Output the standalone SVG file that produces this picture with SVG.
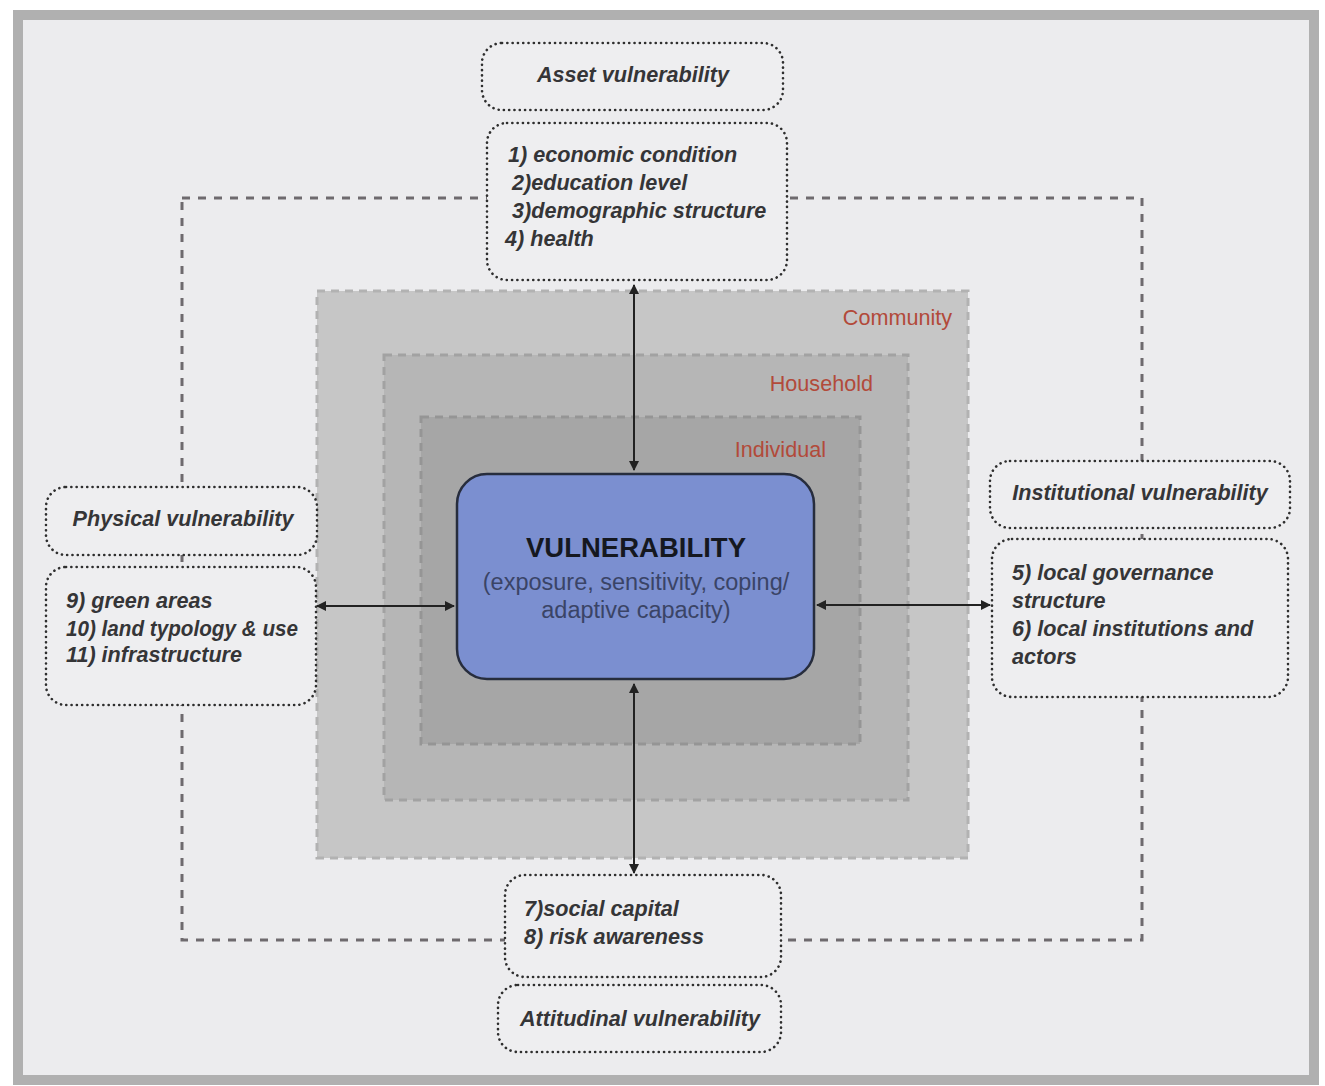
<svg xmlns="http://www.w3.org/2000/svg" width="1325" height="1086" viewBox="0 0 1325 1086">
<style>
.box{fill:#eeeef0;stroke:#2e2e2e;stroke-width:2.6;stroke-dasharray:0.1 5.2;stroke-linecap:round}
.t{font-family:"Liberation Sans",Arial,sans-serif;font-weight:bold;font-style:italic;font-size:21.6px;fill:#353537}
.lvl{font-family:"Liberation Sans",Arial,sans-serif;font-size:21.6px;fill:#b24a3a}
.ring{stroke-width:3;stroke-dasharray:8 6}
.conn{stroke:#222;stroke-width:2;fill:none}
</style>
<defs>
<marker id="ah" viewBox="0 0 10 10" refX="9" refY="5" markerWidth="5" markerHeight="5" orient="auto-start-reverse">
<path d="M0,0 L10,5 L0,10 z" fill="#222"/>
</marker>
</defs>
<rect x="0" y="0" width="1325" height="1086" fill="#ffffff"/>
<rect x="18" y="15" width="1296" height="1065" fill="#ececee" stroke="#b0b0b0" stroke-width="10"/>
<g id="levels">
<rect class="ring" x="317" y="291" width="651" height="567" fill="#c6c6c6" stroke="#b2b2b2"/>
<rect class="ring" x="384" y="355" width="524" height="445" fill="#b6b6b6" stroke="#a2a2a2"/>
<rect class="ring" x="421" y="417" width="439" height="327" fill="#a6a6a6" stroke="#959595"/>
<text class="lvl" x="952" y="325" text-anchor="end">Community</text>
<text class="lvl" x="873" y="391" text-anchor="end">Household</text>
<text class="lvl" x="826" y="457" text-anchor="end">Individual</text>
</g>
<g id="connectors">
<rect x="182" y="198" width="960" height="742" fill="none" stroke="#6e6a6e" stroke-width="3" stroke-dasharray="8 8"/>
<line class="conn" x1="634" y1="285" x2="634" y2="470" marker-start="url(#ah)" marker-end="url(#ah)"/>
<line class="conn" x1="634" y1="684" x2="634" y2="873" marker-start="url(#ah)" marker-end="url(#ah)"/>
<line class="conn" x1="317" y1="606" x2="454" y2="606" marker-start="url(#ah)" marker-end="url(#ah)"/>
<line class="conn" x1="817" y1="605" x2="990" y2="605" marker-start="url(#ah)" marker-end="url(#ah)"/>
</g>
<g id="core">
<rect x="457" y="474" width="357" height="205" rx="30" fill="#7b8fd0" stroke="#272d3d" stroke-width="2.5"/>
<text x="636" y="557" text-anchor="middle" font-family="Liberation Sans,Arial,sans-serif" font-weight="bold" font-size="27.5" fill="#15181f">VULNERABILITY</text>
<text x="636" y="590" text-anchor="middle" font-family="Liberation Sans,Arial,sans-serif" font-size="23.5" fill="#3a4466">(exposure, sensitivity, coping/</text>
<text x="636" y="618" text-anchor="middle" font-family="Liberation Sans,Arial,sans-serif" font-size="23.5" fill="#3a4466">adaptive capacity)</text>
</g>
<g id="asset-title">
<rect class="box" x="482" y="43" width="301" height="67" rx="20"/>
<text class="t" x="633" y="82" text-anchor="middle">Asset vulnerability</text>
</g>
<g id="asset-items">
<rect class="box" x="487" y="123" width="300" height="157" rx="20"/>
<text class="t" x="508" y="162">1) economic condition</text>
<text class="t" x="512" y="190">2)education level</text>
<text class="t" x="512" y="218">3)demographic structure</text>
<text class="t" x="505" y="246">4) health</text>
</g>
<g id="physical-title">
<rect class="box" x="46" y="487" width="271" height="68" rx="20"/>
<text class="t" x="183" y="526" text-anchor="middle">Physical vulnerability</text>
</g>
<g id="physical-items">
<rect class="box" x="46" y="567" width="270" height="138" rx="20"/>
<text class="t" x="66" y="608">9) green areas</text>
<text class="t" x="66" y="636" textLength="232" lengthAdjust="spacingAndGlyphs">10) land typology &amp; use</text>
<text class="t" x="66" y="662">11) infrastructure</text>
</g>
<g id="institutional-title">
<rect class="box" x="990" y="461" width="300" height="67" rx="20"/>
<text class="t" x="1140" y="500" text-anchor="middle">Institutional vulnerability</text>
</g>
<g id="institutional-items">
<rect class="box" x="992" y="539" width="296" height="158" rx="20"/>
<text class="t" x="1012" y="580">5) local governance</text>
<text class="t" x="1012" y="608">structure</text>
<text class="t" x="1012" y="636">6) local institutions and</text>
<text class="t" x="1012" y="664">actors</text>
</g>
<g id="attitudinal-items">
<rect class="box" x="505" y="875" width="276" height="102" rx="20"/>
<text class="t" x="524" y="916">7)social capital</text>
<text class="t" x="524" y="944">8) risk awareness</text>
</g>
<g id="attitudinal-title">
<rect class="box" x="498" y="985" width="283" height="67" rx="20"/>
<text class="t" x="640" y="1026" text-anchor="middle">Attitudinal vulnerability</text>
</g>
</svg>
